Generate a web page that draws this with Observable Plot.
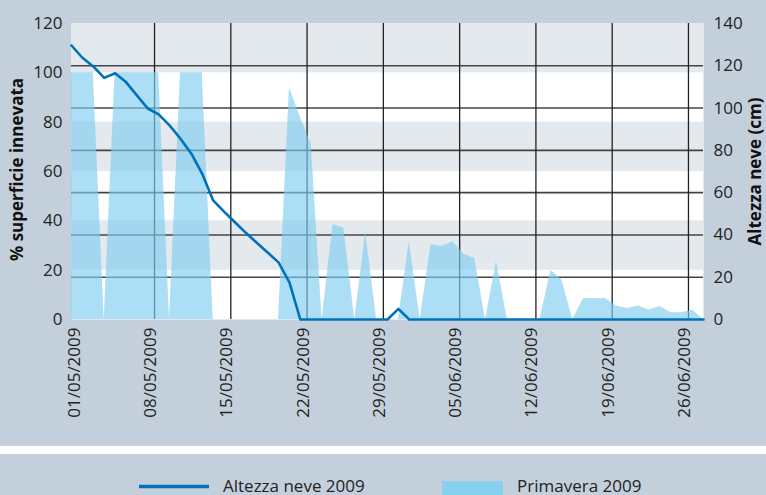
<!DOCTYPE html>
<html><head><meta charset="utf-8">
<script src="https://cdn.jsdelivr.net/npm/d3@7"></script>
<script src="https://cdn.jsdelivr.net/npm/@observablehq/plot@0.6"></script>
<style>
body{margin:0;background:#c3d0dc;font-family:"Open Sans",sans-serif;overflow:hidden;}
#sep{height:8px;background:#fff;}
#chart svg, #legend svg{display:block;}
</style></head><body>
<div id="chart"></div><div id="sep"></div><div id="legend"></div>
<script>
const startDate = "2009-05-01";
// Primavera 2009 (% superficie innevata), one value per day from 01/05/2009
const primavera = [100,100,100,0,100,100,100,100,100,0,
  100,100,100,0,0,0,0,0,0,0,
  94,82,71,0,38.5,37,0,35.5,0,0,
  0,31.5,0,30.3,29.6,31.5,26.5,24.7,0,23.5,
  0,0,0,0,20,16,0,8.5,8.5,8.5,
  5.5,4.5,5.5,3.9,5.3,2.7,2.7,3.8,0];
// Altezza neve 2009 (cm)
const altezza = [129.6,123.8,119.7,114.3,116.5,112.3,106,99.8,97,91.8,
  85.5,78.4,68.9,56.3,51,46,41,36.3,31.7,27,
  17.6,0,0,0,0,0,0,0,0,0,
  5,0,0,0,0,0,0,0,0,0,
  0,0,0,0,0,0,0,0,0,0,
  0,0,0,0,0,0,0,0,0];
const tickDates = ["2009-05-01","2009-05-08","2009-05-15","2009-05-22","2009-05-29","2009-06-05","2009-06-12","2009-06-19","2009-06-26"];
const leftTicks = [0,20,40,60,80,100,120];
const rightTicks = [0,20,40,60,80,100,120,140];
const bands = [[100,120],[60,80],[20,40]];
const seriesNames = ["Altezza neve 2009","Primavera 2009"];
const leftTitle = "% superficie innevata";
const rightTitle = "Altezza neve (cm)";

const day = 864e5;
const t0 = new Date(startDate);
const data = primavera.map((p,i)=>({date:new Date(+t0+i*day), p, h: altezza[i]}));
const tEnd = data[data.length-1].date;
const k = 120/140;
const tickPos = tickDates.map(s => new Date(+new Date(s) + 0.62*day));
const fmt = d3.utcFormat("%d/%m/%Y");

const chart = Plot.plot({
  width:766, height:446,
  marginTop:23, marginBottom:127, marginLeft:71, marginRight:63,
  style:{background:"transparent", fontFamily:"'Open Sans', sans-serif", fontSize:"17px", color:"#222"},
  x:{type:"utc", domain:[t0, tEnd]},
  y:{domain:[0,120]},
  marks:[
    Plot.frame({fill:"#fff", stroke:null}),
    Plot.rect(bands, {x1:()=>t0, x2:()=>tEnd, y1:d=>d[0], y2:d=>d[1], fill:"#e4e9ee"}),
    Plot.ruleY(rightTicks.filter(v=>v>0 && v<140), {y:v=>v*k, stroke:"#444", strokeWidth:1.6}),
    Plot.ruleX(tickPos.slice(1), {stroke:"#222", strokeWidth:1.3}),
    Plot.areaY(data, {x:"date", y:"p", fill:"#7fcdef", fillOpacity:0.65}),
    Plot.lineY(data, {x:"date", y:d=>d.h*k, stroke:"#0072bc", strokeWidth:2.6}),
    Plot.axisY(leftTicks, {anchor:"left", tickSize:0, tickPadding:9, label:null}),
    Plot.axisY(rightTicks.map(v=>v*k), {anchor:"right", tickSize:0, tickPadding:10, tickFormat:d=>Math.round(d/k), label:null}),
    Plot.axisX(tickPos, {anchor:"bottom", tickSize:0, tickRotate:-90, tickPadding:8, tickFormat:fmt, label:null, dx:-4}),
    Plot.text([leftTitle], {text:d=>d, frameAnchor:"left", textAnchor:"middle", dx:-54, dy:-2, rotate:-90, fontWeight:"bold", fontSize:17, fill:"#111", letterSpacing:0.4}),
    Plot.text([rightTitle], {text:d=>d, frameAnchor:"right", textAnchor:"middle", dx:52, rotate:-90, fontWeight:"bold", fontSize:17, fill:"#111", letterSpacing:0.4})
  ]
});
document.getElementById("chart").appendChild(chart);

// legend
const lg = d3.select("#legend").append("svg").attr("width",766).attr("height",41)
  .style("font-family","'Open Sans', sans-serif").style("font-size","17px");
lg.append("line").attr("x1",139).attr("x2",209).attr("y1",32.5).attr("y2",32.5)
  .attr("stroke","#0072bc").attr("stroke-width",3.5);
lg.append("text").attr("x",223).attr("y",37.5).attr("fill","#222").text(seriesNames[0]);
lg.append("rect").attr("x",442).attr("y",27.2).attr("width",61).attr("height",13.8).attr("fill","#86d0f0");
lg.append("text").attr("x",517).attr("y",37.5).attr("fill","#222").text(seriesNames[1]);
</script>
</body></html>
